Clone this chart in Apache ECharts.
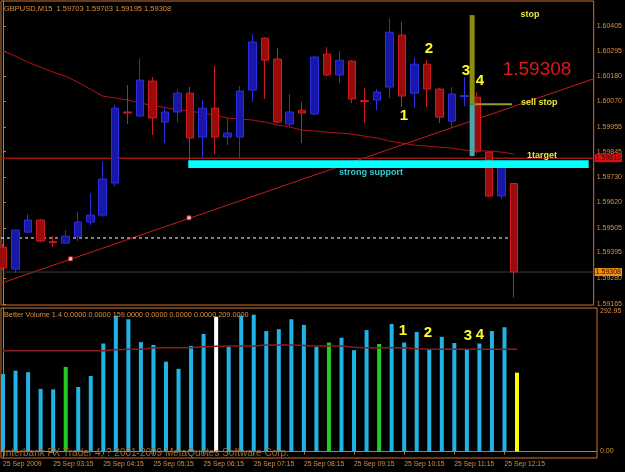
<!DOCTYPE html>
<html><head><meta charset="utf-8">
<script src="https://cdn.jsdelivr.net/npm/echarts@6/dist/echarts.min.js"></script>
<style>html,body{margin:0;padding:0;background:#000;}#c{width:625px;height:472px;}</style>
</head><body><div id="c"></div>
<script>
// ---- price bars (GBPUSD M15, 25 Sep 2009, from 02:15) ----
const opens  = [1.59419,1.59321,1.59486,1.59540,1.59444,1.59437,1.59468,1.59531,1.59562,1.59705,1.60022,1.60004,1.60160,1.59977,1.60022,1.60106,1.59910,1.60039,1.59910,1.59910,1.60120,1.60351,1.60258,1.59968,1.60030,1.60013,1.60280,1.60187,1.60249,1.60073,1.60075,1.60133,1.60365,1.60106,1.60235,1.60124,1.59981,1.60091,1.60088,1.59843,1.59647,1.59703];
const closes = [1.59326,1.59495,1.59540,1.59446,1.59439,1.59468,1.59531,1.59562,1.59723,1.60039,1.60017,1.60164,1.59995,1.60022,1.60106,1.59906,1.60039,1.59910,1.59928,1.60115,1.60334,1.60253,1.59977,1.60022,1.60017,1.60267,1.60187,1.60253,1.60080,1.60068,1.60111,1.60378,1.60093,1.60235,1.60124,1.59999,1.60102,1.60095,1.59848,1.59647,1.59803,1.59308];
const lows   = [1.59317,1.59303,1.59482,1.59442,1.59419,1.59433,1.59446,1.59518,1.59553,1.59691,1.59968,1.59999,1.59919,1.59883,1.59977,1.59807,1.59816,1.59834,1.59874,1.59812,1.60066,1.60080,1.59972,1.59959,1.59883,1.60008,1.60182,1.60151,1.60062,1.59972,1.60030,1.60084,1.60044,1.60039,1.60044,1.59972,1.59950,1.60048,1.59839,1.59642,1.59634,1.59195];
const highs  = [1.59433,1.59495,1.59567,1.59544,1.59468,1.59495,1.59576,1.59660,1.59799,1.60053,1.60142,1.60262,1.60178,1.60044,1.60124,1.60133,1.60075,1.60227,1.59995,1.60138,1.60369,1.60356,1.60307,1.60102,1.60066,1.60271,1.60311,1.60294,1.60253,1.60129,1.60124,1.60441,1.60423,1.60262,1.60253,1.60129,1.60133,1.60178,1.60111,1.59848,1.59807,1.59703];
const priceMA = [1.60294,1.60271,1.60244,1.60222,1.60200,1.60182,1.60155,1.60124,1.60093,1.60084,1.60075,1.60062,1.60051,1.60042,1.60030,1.60026,1.60017,1.60008,1.59995,1.59990,1.59986,1.59977,1.59964,1.59955,1.59941,1.59937,1.59932,1.59928,1.59923,1.59914,1.59906,1.59892,1.59883,1.59874,1.59870,1.59865,1.59861,1.59852,1.59848,1.59848,1.59843,1.59834];

// ---- Better Volume ----
const volumes = [162,169,166,131,130,177,135,158,226,284,277,229,223,188,173,221,246,282,219,284,286,252,256,277,265,219,228,238,212,254,225,267,228,250,214,240,227,214,226,252,260,165];
const volKind = ['n','n','n','n','n','churn','n','n','n','n','n','n','n','n','n','n','n','climaxDown','n','n','n','n','n','n','n','n','churn','n','n','n','churn','n','n','n','n','n','n','n','n','n','n','low'];
const volMA = [211,211,211,211,211,211,211,211,211,213,214,214,217,217,217,217,219,220,221,221,221,223,223,223,222,221,221,221,218,217,217,217,217,215,214,214,214,214,214,214,214,214];

// ---- axis labels ----
const timeLabels = ['25 Sep 2009','25 Sep 03:15','25 Sep 04:15','25 Sep 05:15','25 Sep 06:15','25 Sep 07:15','25 Sep 08:15','25 Sep 09:15','25 Sep 10:15','25 Sep 11:15','25 Sep 12:15'];
const priceTicks = [1.60405,1.60295,1.60180,1.60070,1.59955,1.59845,1.59730,1.59620,1.59505,1.59395,1.59280,1.59165];
const volTicks = [0, 292.95];

// ---- drawn objects (bar-index, price) ----
const trendX = [-0.16, 47.38], trendY = [1.59258, 1.60170];
const anchorX = [5.42, 14.92], anchorY = [1.59367, 1.59550];
const dashX = [-0.16, 41], dashLevel = 1.59460;
const supportX = [14.86, 46.98], supportY = [1.59772, 1.59807];
const stopX = [37.43, 37.83], stopY = [1.60056, 1.60454];
const targetY = [1.59825, 1.60056];
const sellStopX = [37.83, 40.84], sellStopLevel = 1.60056;
const resistLevel = 1.59816;
const bidPrice = 1.59308;

const ORANGE = '#d2702a', TXT = '#dc9040';
const FONT = '"Liberation Sans", Arial, sans-serif';
const kindColor = {n:'#20b4e6', churn:'#22cc22', climaxDown:'#ffffff', low:'#ffff00'};
const XMIN = -0.16, XMAX = 47.38;

const tickIdx = timeLabels.map((_, k) => k * 4);
const chart = echarts.init(document.getElementById('c'));

function txt(x, y, text, size, color, weight, align) {
  return {type:'text', x:x, y:y, z:100, style:{text:text, fill:color, fontSize:size, fontWeight:weight||'normal', fontFamily:FONT, align:align||'left', verticalAlign:'middle'}};
}
function hLine(level, color, width, boxColor, boxText) {
  return {type:'line', xAxisIndex:0, yAxisIndex:0, data:[[XMIN, level],[XMAX, level]], showSymbol:false, silent:true, z:2,
    lineStyle:{color:color, width:width},
    endLabel:{show:true, distance:1, formatter:()=>level.toFixed(5), color:boxText, backgroundColor:boxColor,
      padding:[1,1,0,1], fontSize:7, fontFamily:FONT, valueAnimation:false}};
}

chart.setOption({
  backgroundColor:'#000',
  animation:false,
  grid:[
    {left:1, top:1, width:596, height:304, show:true, borderColor:ORANGE, borderWidth:1},
    {left:1, top:308, width:596, height:150, show:true, borderColor:ORANGE, borderWidth:1}
  ],
  xAxis:[
    {gridIndex:0, type:'value', min:XMIN, max:XMAX, show:false, splitLine:{show:false}},
    {gridIndex:1, type:'value', min:XMIN, max:XMAX, splitLine:{show:false},
     axisLine:{show:true, lineStyle:{color:ORANGE}},
     axisTick:{show:true, length:3, customValues:tickIdx, lineStyle:{color:ORANGE}},
     axisLabel:{customValues:tickIdx, formatter:v => timeLabels[tickIdx.indexOf(v)], align:'left', margin:3, color:TXT, fontSize:6.8, fontFamily:FONT}}
  ],
  yAxis:[
    {gridIndex:0, type:'value', position:'right', min:1.59161, max:1.60517, splitLine:{show:false},
     axisLine:{show:true, lineStyle:{color:ORANGE}},
     axisTick:{show:true, length:3, customValues:priceTicks, lineStyle:{color:ORANGE}},
     axisLabel:{customValues:priceTicks, formatter:v => v.toFixed(5), margin:3, color:TXT, fontSize:7, fontFamily:FONT}},
    {gridIndex:1, type:'value', position:'right', min:-13.6, max:300.3, splitLine:{show:false},
     axisLine:{show:true, lineStyle:{color:ORANGE}},
     axisTick:{show:false},
     axisLabel:{customValues:volTicks, formatter:v => v.toFixed(2), margin:3, color:TXT, fontSize:7, fontFamily:FONT}}
  ],
  series:[
    {type:'line', xAxisIndex:0, yAxisIndex:0, data:priceMA.map((v,i)=>[i,v]), showSymbol:false, silent:true,
     lineStyle:{color:'#b01414', width:1}, z:2},
    {type:'line', xAxisIndex:0, yAxisIndex:0, data:trendX.map((x,i)=>[x,trendY[i]]), showSymbol:false, silent:true,
     lineStyle:{color:'#c81c1c', width:1}, z:2},
    {type:'line', xAxisIndex:0, yAxisIndex:0, data:dashX.map(x=>[x,dashLevel]), showSymbol:false, silent:true,
     lineStyle:{color:'#ffffff', width:1, type:[3,3]}, z:2},
    hLine(bidPrice, '#3a3a3a', 1, '#f08c10', '#2a1000'),
    hLine(resistLevel, '#9c1414', 1.5, '#e01010', '#300000'),
    {type:'candlestick', xAxisIndex:0, yAxisIndex:0, barWidth:8, z:3,
     data:opens.map((o,i)=>[i, o, closes[i], lows[i], highs[i]]),
     itemStyle:{color:'#1818a8', color0:'#9a0c0c', borderColor:'#2c2ce0', borderColor0:'#d01c1c', borderWidth:1}},
    {type:'line', xAxisIndex:0, yAxisIndex:0, data:[], silent:true,
     markArea:{silent:true, z:5, data:[
       [{coord:[supportX[0], supportY[1]], itemStyle:{color:'#00ffff', opacity:1}}, {coord:[supportX[1], supportY[0]]}],
       [{coord:[stopX[0], stopY[1]], itemStyle:{color:'#8c8c14', opacity:1}}, {coord:[stopX[1], stopY[0]]}],
       [{coord:[stopX[0], targetY[1]], itemStyle:{color:'#4aa6b0', opacity:1}}, {coord:[stopX[1], targetY[0]]}]
     ]}},
    {type:'line', xAxisIndex:0, yAxisIndex:0, data:sellStopX.map(x=>[x,sellStopLevel]), showSymbol:false, silent:true,
     lineStyle:{color:'#9a9a30', width:2}, z:6},
    {type:'scatter', xAxisIndex:0, yAxisIndex:0, data:anchorX.map((x,i)=>[x,anchorY[i]]), symbol:'rect', symbolSize:4,
     itemStyle:{color:'#ffffff', borderColor:'#c81c1c', borderWidth:1}, z:6, silent:true},
    {type:'bar', xAxisIndex:1, yAxisIndex:1, barWidth:4, silent:true,
     data:volumes.map((v,i)=>({value:[i,v], itemStyle:{color:kindColor[volKind[i]]}}))},
    {type:'line', xAxisIndex:1, yAxisIndex:1, data:volMA.map((v,i)=>[i,v]), showSymbol:false, silent:true,
     lineStyle:{color:'#8c1c1c', width:1.5}, z:4}
  ],
  graphic:{elements:[
    txt(4, 9, 'GBPUSD,M15  1.59703 1.59703 1.59195 1.59308', 7.5, TXT),
    txt(4, 315, 'Better Volume 1.4 0.0000 0.0000 159.0000 0.0000 0.0000 0.0000 209.0000', 7.3, TXT),
    txt(3, 453, 'Interbank FX Trader 4, ? 2001-2009 MetaQuotes Software Corp.', 10, '#9c6a34'),
    txt(530, 15, 'stop', 9, '#e8e83c', 'bold', 'center'),
    txt(537, 70, '1.59308', 19, '#e01818', 'normal', 'center'),
    txt(521, 103, 'sell stop', 9, '#e8e83c', 'bold'),
    txt(527, 156, '1target', 9, '#e8e83c', 'bold'),
    txt(339, 173, 'strong support', 9, '#38ccd6', 'bold'),
    txt(404, 116, '1', 15, '#ffff22', 'bold', 'center'),
    txt(429, 49, '2', 15, '#ffff22', 'bold', 'center'),
    txt(466, 71, '3', 15, '#ffff22', 'bold', 'center'),
    txt(480, 81, '4', 15, '#ffff22', 'bold', 'center'),
    txt(403, 331, '1', 15, '#ffff22', 'bold', 'center'),
    txt(428, 333, '2', 15, '#ffff22', 'bold', 'center'),
    txt(468, 336, '3', 15, '#ffff22', 'bold', 'center'),
    txt(480, 335, '4', 15, '#ffff22', 'bold', 'center')
  ]}
});
</script></body></html>
